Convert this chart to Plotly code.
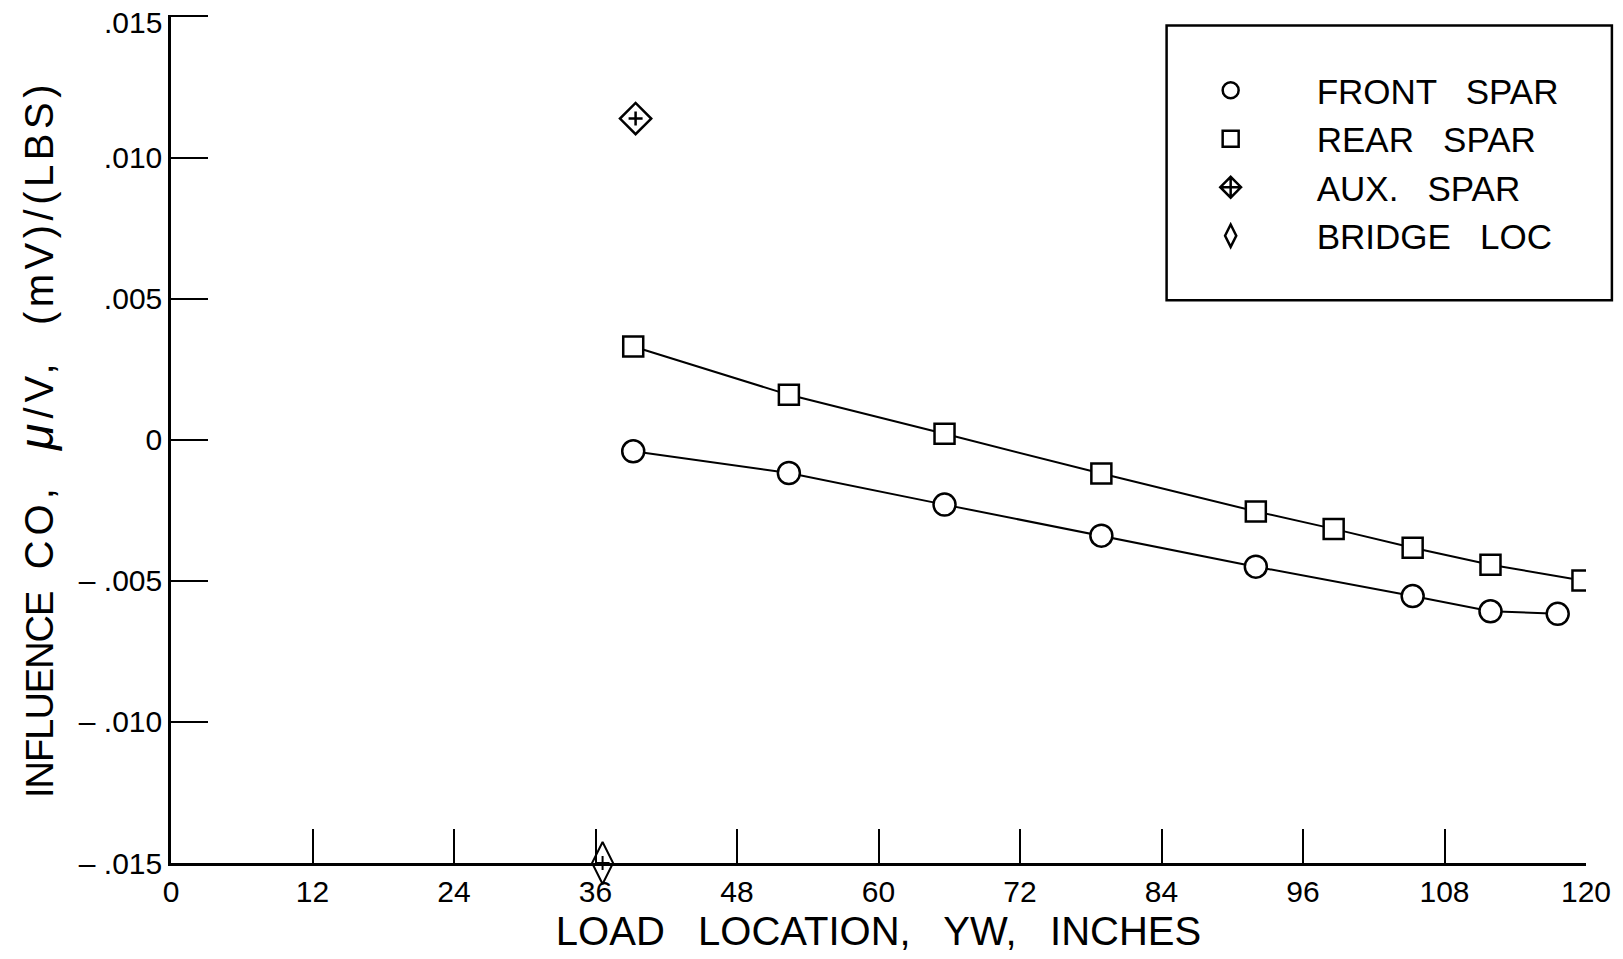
import plotly.graph_objects as go

# ---- data ----
x_ticks = [0, 12, 24, 36, 48, 60, 72, 84, 96, 108, 120]
y_tickvals = [0.015, 0.010, 0.005, 0.0, -0.005, -0.010, -0.015]
y_ticktext = ["", ".010", ".005", "0", "\u2013 .005", "\u2013 .010", "\u2013 .015"]
y_top_label = ".015"

front_x = [39.2, 52.4, 65.6, 78.9, 92.0, 105.3, 111.9, 117.6]
front_y = [-0.00041, -0.00118, -0.00230, -0.00340, -0.00450, -0.00554, -0.00608, -0.00617]

rear_x = [39.2, 52.4, 65.6, 78.9, 92.0, 98.6, 105.3, 111.9, 119.7]
rear_y = [0.00330, 0.00159, 0.00021, -0.00120, -0.00254, -0.00316, -0.00383, -0.00443, -0.00499]

aux_x = [39.4]
aux_y = [0.01138]

bridge_x = [36.6]
bridge_y = [-0.0150]

series_names = ["FRONT   SPAR", "REAR   SPAR", "AUX.   SPAR", "BRIDGE   LOC"]

FONT = "Liberation Sans, Arial, Helvetica, sans-serif"
BLACK = "black"

fig = go.Figure()

# Front spar
fig.add_trace(go.Scatter(
    x=front_x, y=front_y, mode="lines+markers", showlegend=False,
    line=dict(color=BLACK, width=2),
    marker=dict(symbol="circle", size=22, color="white", line=dict(color=BLACK, width=2.5)),
))
# Rear spar
fig.add_trace(go.Scatter(
    x=rear_x, y=rear_y, mode="lines+markers", showlegend=False,
    line=dict(color=BLACK, width=2),
    marker=dict(symbol="square", size=20, color="white", line=dict(color=BLACK, width=2.5)),
))
# Aux spar (diamond with small cross)
fig.add_trace(go.Scatter(
    x=aux_x, y=aux_y, mode="markers", showlegend=False,
    marker=dict(symbol="diamond", size=24, color="white", line=dict(color=BLACK, width=2.5)),
))
fig.add_trace(go.Scatter(
    x=aux_x, y=aux_y, mode="markers", showlegend=False,
    marker=dict(symbol="cross-thin-open", size=10, color=BLACK, line=dict(color=BLACK, width=2.5)),
))
# Bridge location (tall diamond with small cross)
fig.add_trace(go.Scatter(
    x=bridge_x, y=bridge_y, mode="markers", showlegend=False, cliponaxis=False,
    marker=dict(symbol="diamond-tall", size=30, color="white", line=dict(color=BLACK, width=2)),
))
fig.add_trace(go.Scatter(
    x=bridge_x, y=bridge_y, mode="markers", showlegend=False, cliponaxis=False,
    marker=dict(symbol="cross-thin-open", size=10, color=BLACK, line=dict(color=BLACK, width=2)),
))

# Legend entries (marker-only, like the reference legend)
legend_symbols = ["circle-open", "square-open", "diamond-cross-open", "diamond-tall-open"]
for i, (nm, sym) in enumerate(zip(series_names, legend_symbols)):
    fig.add_trace(go.Scatter(
        x=[None], y=[None], mode="markers", name=nm, legendgroup=f"g{i}",
        marker=dict(symbol=sym, size=16, color=BLACK, line=dict(color=BLACK, width=2.5)),
    ))

axis_common = dict(
    showline=True, linecolor=BLACK, linewidth=2.5, mirror=False,
    showgrid=False, zeroline=False,
    ticks="inside", tickcolor=BLACK, tickwidth=2,
    tickfont=dict(family=FONT, size=30, color=BLACK),
    ticklabeloverflow="allow",
)

y_title = (
    '<span style="font-size:38px;letter-spacing:-1px">INFLUENCE</span>  '
    '<span style="letter-spacing:5px">CO,</span>   '
    '<span style="letter-spacing:5px"><i><span style="font-size:48px">\u03bc</span></i>/V,</span>   '
    '<span style="letter-spacing:4.5px">(mV)/(LBS)</span>'
)

fig.update_xaxes(
    range=[0, 120], tickmode="array", tickvals=x_ticks,
    ticktext=[str(v) for v in x_ticks], ticklen=34, ticklabelstandoff=0,
    title=dict(text="LOAD   LOCATION,   YW,   INCHES",
               font=dict(family=FONT, size=40, color=BLACK), standoff=11),
    **axis_common,
)
fig.update_yaxes(
    range=[-0.015, 0.01505], tickmode="array", tickvals=y_tickvals,
    ticktext=y_ticktext, ticklen=37, ticklabelstandoff=0,
    title=dict(text=y_title, font=dict(family=FONT, size=40, color=BLACK), standoff=13),
    **axis_common,
)

# top y tick label (placed a little below its tick, as in the reference)
fig.add_annotation(
    text=y_top_label, xref="paper", x=0, yref="y", y=y_tickvals[0],
    xanchor="right", yanchor="middle", xshift=-7, yshift=-6, showarrow=False,
    font=dict(family=FONT, size=30, color=BLACK),
)

# Legend frame
fig.add_shape(type="rect", xref="paper", yref="paper",
              x0=0.7036, x1=1.0183, y0=0.6636, y1=0.9877,
              line=dict(color=BLACK, width=2.5), fillcolor="rgba(0,0,0,0)", layer="above")

fig.update_layout(
    width=1623, height=959,
    margin=dict(l=171, r=35, t=14.6, b=96),
    paper_bgcolor="white", plot_bgcolor="white",
    font=dict(family=FONT, color=BLACK),
    showlegend=True,
    legend=dict(
        x=0.6881, y=0.9458, xanchor="left", yanchor="top",
        bgcolor="rgba(0,0,0,0)", borderwidth=0,
        font=dict(family=FONT, size=35, color=BLACK),
        itemwidth=162, tracegroupgap=0, traceorder="normal",
    ),
)

fig.write_html(
    "out.html",
    config={"displayModeBar": False},
    post_script=(
        "document.body.style.margin='0';"
        "document.body.style.overflow='hidden';"
        "document.documentElement.style.overflow='hidden';"
    ),
)
